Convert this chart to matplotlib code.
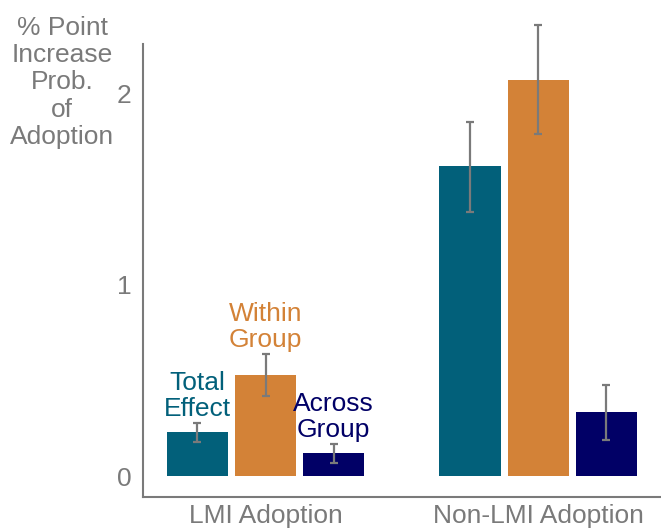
import matplotlib.pyplot as plt
import numpy as np

plt.rcParams['font.family'] = ['Liberation Sans', 'DejaVu Sans']

groups = ['LMI Adoption', 'Non-LMI Adoption']
effects = ['Total\nEffect', 'Within\nGroup', 'Across\nGroup']
colors = ['#02607A', '#D38237', '#010066']

# values per effect: [LMI, Non-LMI]
means = [[0.23, 1.62], [0.53, 2.07], [0.12, 0.335]]
err_lo = [[0.18, 1.38], [0.42, 1.79], [0.07, 0.19]]
err_hi = [[0.28, 1.85], [0.64, 2.36], [0.17, 0.476]]

grey = '#7a7a7a'

fig = plt.figure(figsize=(6.61, 5.30), dpi=100)
ax = fig.add_axes([0.216, 0.062, 0.784, 0.938])

group_x = np.array([0, 4])
for i in range(3):
    x = group_x + (i - 1)
    m = np.array(means[i])
    lo = m - np.array(err_lo[i])
    hi = np.array(err_hi[i]) - m
    ax.bar(x, m, width=0.9, color=colors[i], zorder=2)
    ax.errorbar(x, m, yerr=[lo, hi], fmt='none', ecolor=grey,
                elinewidth=1.6, capsize=3, capthick=1.6, zorder=3)
    # label above the LMI group bar
    ax.text(x[0], err_hi[i][0] + 0.01, effects[i], color=colors[i],
            ha='center', va='bottom', fontsize=19, linespacing=1.08)

ax.set_xlim(-1.8, 5.8)
ax.set_ylim(-0.11, 2.49)
ax.set_xticks(group_x)
ax.set_xticklabels(groups, fontsize=19, color=grey)
ax.set_yticks([0, 1, 2])
ax.set_yticklabels(['0', '1', '2'], fontsize=19, color=grey)
ax.tick_params(length=0, pad=8)
ax.tick_params(axis='x', pad=5)

for s in ['top', 'right']:
    ax.spines[s].set_visible(False)
for s in ['left', 'bottom']:
    ax.spines[s].set_color(grey)
    ax.spines[s].set_linewidth(1.5)
ax.spines['left'].set_bounds(-0.11, 2.26)

fig.text(0.094, 0.97, '% Point\nIncrease\nProb.\nof\nAdoption', ha='center', va='top',
         fontsize=19, color=grey, linespacing=1.17)

fig.savefig('out.png', dpi=100)
